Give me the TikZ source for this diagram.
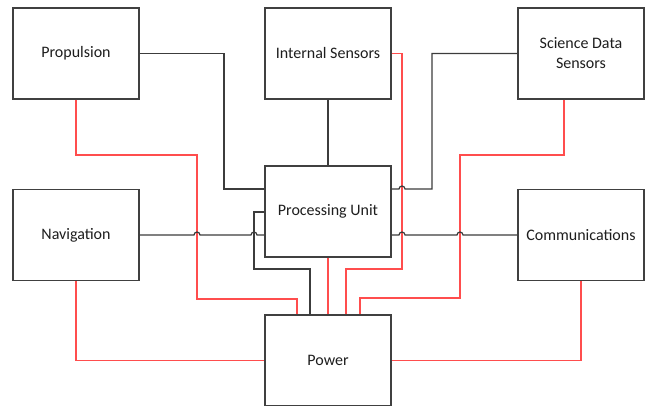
\documentclass[tikz,border=0pt]{standalone}
\usepackage{fontspec}
\setmainfont{Carlito}
\usepackage{tikz}
\usetikzlibrary{calc,positioning}
\usepackage{xcolor}
\definecolor{boxgray}{RGB}{64,64,64}
\definecolor{busgray}{RGB}{60,60,60}
\definecolor{pwrred}{RGB}{255,77,77}
\definecolor{textgray}{RGB}{30,30,30}

\begin{document}
\begin{tikzpicture}[x=0.75pt, y=-0.75pt,
    unit/.style={rectangle, draw=boxgray, line width=1.1pt, fill=white, minimum width=94.5pt, minimum height=68.25pt, inner sep=0pt, align=center, text=textgray, font=\fontsize{12}{15}\selectfont},
    bus/.style={draw=busgray, line width=0.9pt},
    pwr/.style={draw=pwrred, line width=1.1pt}]
  \useasboundingbox (0,0) rectangle (647,406);
  % Nodes
  \node[unit] (Prop) at (76,53.5) {Propulsion};
  \node[unit] (IntS) at (328,53.5) {Internal Sensors};
  \node[unit] (Sci) at (581,53.5) {Science Data\\Sensors};
  \node[unit] (Nav) at (76,235) {Navigation};
  \node[unit] (Proc) at (328,211.5) {Processing Unit};
  \node[unit] (Comm) at (581,235) {Communications};
  \node[unit] (Pow) at (328,360.5) {Power};
  % Power lines (red)
  \draw[pwr] (Prop.south) |- (197,155) |- (297,299) -- (Pow.north -| 297,0);
  \draw[pwr] (Nav.south) |- (Pow.west);
  \draw[pwr] (Proc.south) -- (Pow.north);
  \draw[pwr] (IntS.east) -| (402,269) -| (Pow.north -| 346,0);
  \draw[pwr] (Sci.south -| 564,0) |- (460,155) |- (360,298) -- (Pow.north -| 360,0);
  \draw[pwr] (Comm.south) |- (Pow.east);
  % Data lines (black), with jumps over crossings
  \draw[bus] (Prop.east) -| (224,189) -- (Proc.west |- 224,189);
  \draw[bus] (IntS.south) -- (Proc.north);
  \draw[bus] (Sci.west) -| (432,189) -- (405,189)
    arc[start angle=0, end angle=-180, radius=3] -- (Proc.east |- 432,189);
  \draw[bus] (Nav.east) -- (194,235)
    arc[start angle=180, end angle=360, radius=3] -- (251,235)
    arc[start angle=180, end angle=360, radius=3] -- (Proc.west |- Nav.east);
  \draw[bus] (Comm.west) -- (463,235)
    arc[start angle=0, end angle=-180, radius=3] -- (405,235)
    arc[start angle=0, end angle=-180, radius=3] -- (Proc.east |- Comm.west);
  \draw[bus] (Pow.north -| 310,0) |- (254,269) |- (Proc.west |- 254,212);
\end{tikzpicture}
\end{document}
